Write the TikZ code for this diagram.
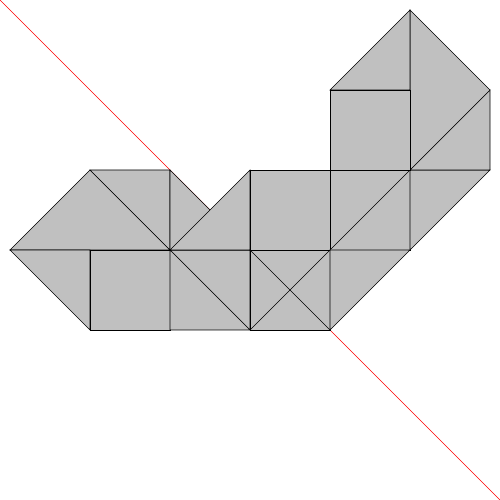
\documentclass[tikz,border=0pt]{standalone}
\begin{document}
\begin{tikzpicture}[x=80pt,y=80pt,
  piece/.style={fill={rgb,255:red,192;green,192;blue,192},draw=black,line width=0.6pt,line join=miter}]
\useasboundingbox (-0.125,-2.125) rectangle (6.125,4.125);
\coordinate (r1) at (-0.125,4.125);
\coordinate (r2) at (6.125,-2.125);
\draw[red,line width=0.5pt] (r1) -- (r2);
% left
\draw[piece] (0,1) -- (1,2) -- (2,1) -- cycle;
\draw[piece] (1,2) -- (2,2) -- (2,1) -- cycle;
\draw[piece] (0,1) -- (1,1) -- (1,0) -- cycle;
\draw[piece] (1,0) rectangle (2,1);
\draw[piece] (2,1) -- (3,1) -- (3,0) -- cycle;
\draw[piece] (2,1) -- (2,0) -- (3,0) -- cycle;
\draw[piece] (2,2) -- (2,1) -- (3,1) -- cycle;
\draw[piece] (2,1) -- (3,2) -- (3,1) -- cycle;
% middle
\draw[piece] (3,1) rectangle (4,2);
\draw[piece] (3,0) rectangle (4,1);
\draw[piece] (3,0) -- (4,1);
\draw[piece] (3,1) -- (4,0);
\draw[piece] (4,1) rectangle (5,2);
\draw[piece] (4,1) -- (5,2);
\draw[piece] (4,1) -- (5,1) -- (4,0) -- cycle;
\draw[piece] (5,1) -- (5,2) -- (6,2) -- cycle;
% right
\draw[piece] (5,2) -- (6,2) -- (6,3) -- cycle;
\draw[piece] (5,2) -- (6,3) -- (5,4) -- cycle;
\draw[piece] (4,2) rectangle (5,3);
\draw[piece] (4,3) -- (5,4) -- (5,3) -- cycle;
\end{tikzpicture}
\end{document}
